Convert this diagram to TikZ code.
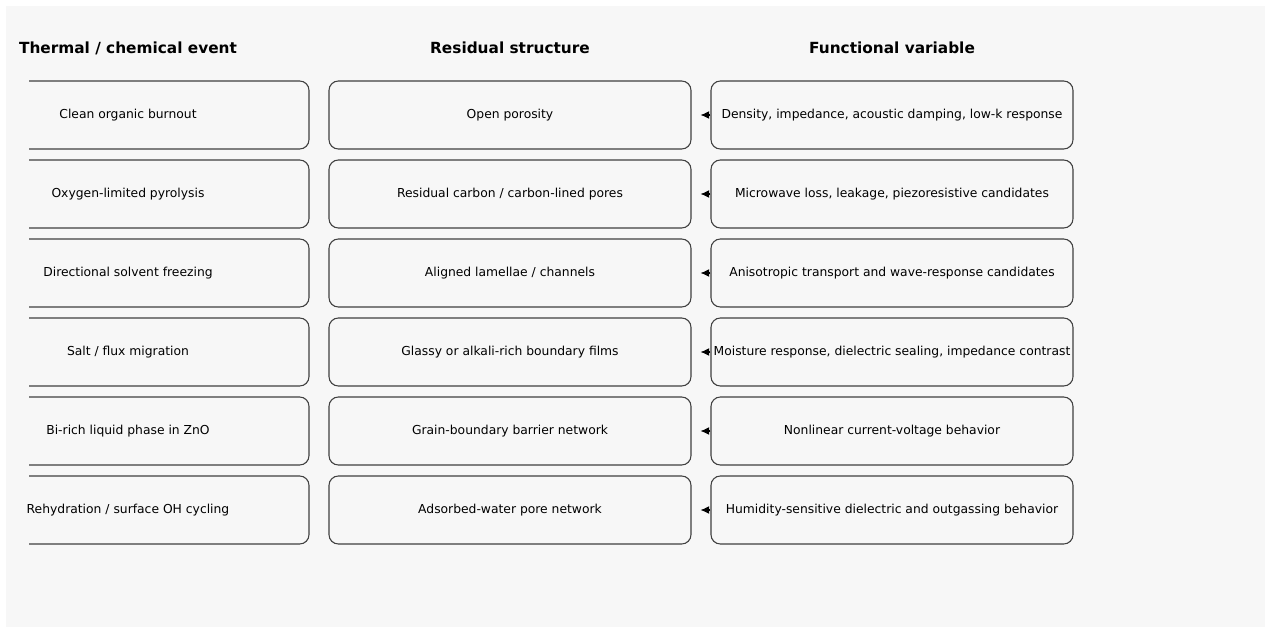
\documentclass[tikz,border=0pt]{standalone}
\usepackage{fontspec}
\setmainfont{DejaVu Sans}
\usetikzlibrary{arrows.meta,positioning}
\definecolor{bggray}{HTML}{F7F7F7}
\definecolor{edgegray}{HTML}{404040}

\begin{document}
\begin{tikzpicture}[x=0.75pt, y=-0.75pt,
  cell/.style={draw=edgegray, line width=0.8pt, rounded corners=7pt, fill=bggray,
    minimum width=271.5pt, minimum height=51pt, inner sep=0pt,
    font=\fontsize{9.25}{11}\selectfont},
  cellframe/.style={draw=edgegray, line width=0.8pt, rounded corners=7pt},
  colhead/.style={font=\bfseries\fontsize{11.5}{13}\selectfont},
  back/.style={-{Latex[length=6.5pt,width=6pt]}, line width=0.8pt, shorten >=6.75pt}]
\useasboundingbox (0,0) rectangle (1271,633);
\fill[bggray] (6,6) rectangle (1265,627);
% column headings
\node[colhead] (hev) at (128,48) {Thermal / chemical event};
\node[colhead] (hrs) at (510,48) {Residual structure};
\node[colhead] (hfv) at (892,48) {Functional variable};
% rows: event -> residual structure <- functional variable
\foreach \i/\y/\ev/\rs/\fv in {
  1/115/{Clean organic burnout}/{Open porosity}/{Density, impedance, acoustic damping, low-k response},
  2/194/{Oxygen-limited pyrolysis}/{Residual carbon / carbon-lined pores}/{Microwave loss, leakage, piezoresistive candidates},
  3/273/{Directional solvent freezing}/{Aligned lamellae / channels}/{Anisotropic transport and wave-response candidates},
  4/352/{Salt / flux migration}/{Glassy or alkali-rich boundary films}/{Moisture response, dielectric sealing, impedance contrast},
  5/431/{Bi-rich liquid phase in ZnO}/{Grain-boundary barrier network}/{Nonlinear current-voltage behavior},
  6/510/{Rehydration / surface OH cycling}/{Adsorbed-water pore network}/{Humidity-sensitive dielectric and outgassing behavior}}{
  % left column: frame cut off at the left edge, text not
  \node[cell, draw=none, fill=none, outer sep=0pt] (ev\i) at (128,\y) {\ev};
  \begin{scope}
    \clip (29,0) rectangle (330,633);
    \draw[cellframe] (ev\i.south west) rectangle (ev\i.north east);
  \end{scope}
  \node[cell] (rs\i) at (510,\y) {\rs};
  \node[cell] (fv\i) at (892,\y) {\fv};
  \draw[back] (fv\i.west) -- (rs\i.east);
}
\end{tikzpicture}
\end{document}
